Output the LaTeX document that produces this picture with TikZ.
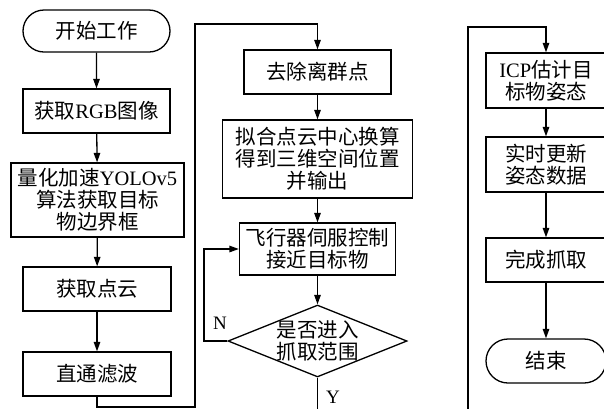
\documentclass[tikz,border=0pt]{standalone}
\usepackage{fontspec}
\setmainfont{Liberation Serif}
\newfontfamily\cjk{Noto Sans CJK SC}
\newcommand{\zh}[1]{{\cjk #1}}
\usetikzlibrary{arrows.meta,shapes.misc,shapes.geometric}
\begin{document}
\begin{tikzpicture}[x=1pt,y=-1pt,
  line width=1.3pt,
  base/.style={draw, inner sep=0pt, align=center,
    font=\fontsize{20.5}{22}\selectfont},
  box/.style={base, rectangle},
  term/.style={base, rounded rectangle},
  dia/.style={draw, diamond, inner sep=0pt},
  lbl/.style={font=\fontsize{19}{20}\selectfont},
  arr/.style={-{Triangle[length=9.5pt,width=6.5pt]}}]
\useasboundingbox (0,0) rectangle (604,408);
% left column
\node[term, minimum width=147pt, minimum height=42pt] (l0) at (96.5,31) {\zh{开始工作}};
\node[box, minimum width=147pt, minimum height=44pt] (l1) at (96.5,111) {\zh{获取}RGB\zh{图像}};
\node[box, minimum width=173pt, minimum height=74pt] (l2) at (97.5,200) {\zh{量化加速}YOLOv5\\\zh{算法获取目标}\\\zh{物边界框}};
\node[box, minimum width=148pt, minimum height=44pt] (l3) at (97,289) {\zh{获取点云}};
\node[box, minimum width=148pt, minimum height=44pt] (l4) at (97,374) {\zh{直通滤波}};
% middle column
\node[box, minimum width=147pt, minimum height=44pt] (m1) at (317.5,72) {\zh{去除离群点}};
\node[box, minimum width=190pt, minimum height=78pt] (m2) at (317.5,159) {\zh{拟合点云中心换算}\\\zh{得到三维空间位置}\\\zh{并输出}};
\node[box, minimum width=156pt, minimum height=52pt] (m3) at (317.5,249) {\zh{飞行器伺服控制}\\\zh{接近目标物}};
\node[dia, minimum width=179pt, minimum height=72pt] (d) at (317.5,341) {};
\node[base, draw=none] (dt) at (317.5,341) {\zh{是否进入}\\\zh{抓取范围}};
% right column
\node[box, minimum width=120pt, minimum height=55pt] (r1) at (546,80.5) {ICP\zh{估计目}\\\zh{标物姿态}};
\node[box, minimum width=120pt, minimum height=55pt] (r2) at (546,164.5) {\zh{实时更新}\\\zh{姿态数据}};
\node[box, minimum width=120pt, minimum height=44pt] (r3) at (546,260) {\zh{完成抓取}};
\node[term, minimum width=120pt, minimum height=44pt] (r4) at (546,361) {\zh{结束}};
% labels
\node[lbl] (nl) at (220,323) {N};
\node[lbl] (yl) at (333,397) {Y};
% helper coordinates
\coordinate (c1) at (195,407);
\coordinate (c2) at (195,24);
\coordinate (c3) at (204,341);
\coordinate (c4) at (317.5,410);
\coordinate (c5) at (468,410);
\coordinate (c6) at (468,27);
% connectors
\draw[arr] (l0) -- (l1);
\draw[arr] (l1) -- (l2);
\draw[arr] (l2) -- (l3);
\draw[arr] (l3) -- (l4);
\draw[arr] (l4.south) |- (c1) -- (c2) -| (m1.north);
\draw[arr] (m1) -- (m2);
\draw[arr] (m2) -- (m3);
\draw[arr] (m3) -- (d.north);
\draw[arr] (d.west) -- (c3) |- (m3.west);
\draw (d.south) -- (c4);
\draw[arr] (c5) -- (c6) -| (r1.north);
\draw[arr] (r1) -- (r2);
\draw[arr] (r2) -- (r3);
\draw[arr] (r3) -- (r4);
\end{tikzpicture}
\end{document}
